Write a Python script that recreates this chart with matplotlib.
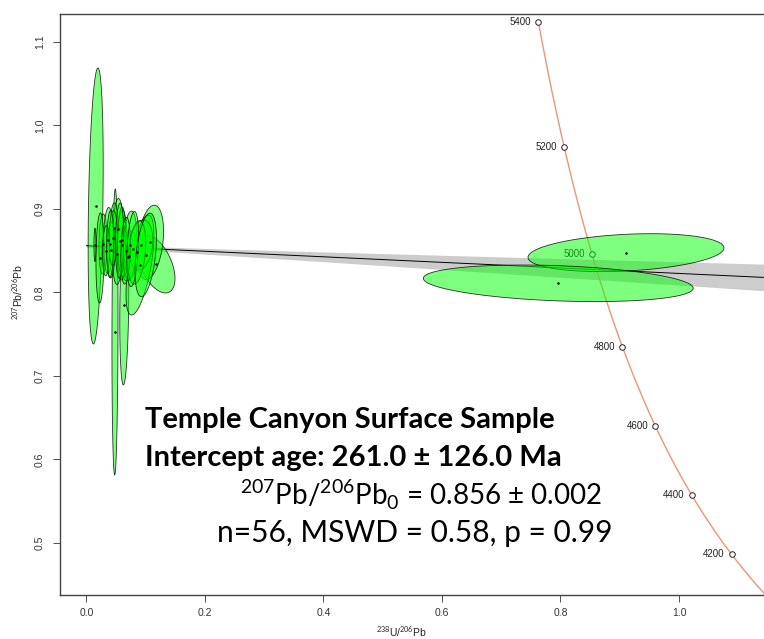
import numpy as np
import matplotlib.pyplot as plt
from matplotlib.patches import Polygon

plt.rcParams['mathtext.fontset'] = 'custom'
plt.rcParams['mathtext.rm'] = 'Lato'
plt.rcParams['mathtext.bf'] = 'Lato:bold'

# analyses: centre (238U/206Pb, 207Pb/206Pb), half-extent x, half-extent y, correlation
ell_x = [0.0155, 0.0481, 0.0638, 0.1173, 0.1076, 0.0903, 0.0700, 0.0717, 0.0278, 0.0368,
         0.0532, 0.0523, 0.0599, 0.0228, 0.0464, 0.0143, 0.0594, 0.0414, 0.0734, 0.0920,
         0.0330, 0.0450, 0.0850, 0.0400, 0.0560, 0.0660, 0.0780, 0.1000,
         0.9106, 0.7963]
ell_y = [0.9036, 0.7527, 0.7850, 0.8341, 0.8600, 0.8329, 0.8425, 0.8437, 0.8581, 0.8623,
         0.8766, 0.8455, 0.8569, 0.8413, 0.8772, 0.8570, 0.8629, 0.8509, 0.8569, 0.8569,
         0.8500, 0.8650, 0.8480, 0.8580, 0.8620, 0.8500, 0.8520, 0.8450,
         0.8477, 0.8110]
ell_sx = [0.0127, 0.0051, 0.0076, 0.0321, 0.0225, 0.0236, 0.0101, 0.0152, 0.0068, 0.0084,
          0.0084, 0.0084, 0.0084, 0.0068, 0.0068, 0.0017, 0.0068, 0.0068, 0.0118, 0.0200,
          0.0060, 0.0070, 0.0150, 0.0060, 0.0070, 0.0080, 0.0100, 0.0180,
          0.1654, 0.2278]
ell_sy = [0.1653, 0.1713, 0.0958, 0.0347, 0.0445, 0.0599, 0.0251, 0.0299, 0.0359, 0.0395,
          0.0359, 0.0359, 0.0419, 0.0539, 0.0299, 0.0200, 0.0395, 0.0335, 0.0407, 0.0300,
          0.0300, 0.0330, 0.0380, 0.0400, 0.0450, 0.0400, 0.0450, 0.0500,
          0.0227, 0.0219]
ell_rho = [0.3, 0.1, 0.2, -0.5, 0.3, 0.6, 0.2, 0.2, 0.1, 0.1,
           0.1, 0.1, 0.1, 0.1, 0.1, 0.0, 0.1, 0.1, 0.2, 0.2,
           0.1, 0.1, 0.3, 0.1, 0.1, 0.2, 0.3, 0.4,
           0.25, -0.27]

# concordia (Tera-Wasserburg) age labels, Ma
conc_ages = [4200, 4400, 4600, 4800, 5000, 5200, 5400]
lam238 = 1.55125e-4
lam235 = 9.8485e-4
U85 = 137.818

# regression: 207Pb/206Pb0 intercept, slope and their errors
y_int = 0.856
slope = -0.0332
y_int_err = 0.002
slope_err = 0.0138


def tw(t):
    e8 = np.exp(lam238 * t) - 1
    e5 = np.exp(lam235 * t) - 1
    return 1 / e8, e5 / (U85 * e8)


fig = plt.figure(figsize=(7.64, 6.39), dpi=100)
ax = fig.add_axes([60 / 764, 44 / 639, 704 / 764, 581 / 639])
ax.set_xlim(-0.0447, 1.1435)
ax.set_ylim(0.4377, 1.1335)

# error envelope and regression line
xx = np.linspace(0, 1.2, 200)
yy = y_int + slope * xx
ee = np.sqrt(y_int_err ** 2 + (slope_err * xx) ** 2)
ax.fill_between(xx, yy - ee, yy + ee, color='#cccccc', lw=0, zorder=1)
ax.plot(xx, yy, color='black', lw=0.7, zorder=2)

# concordia
tt = np.linspace(4000, 5400, 300)
cx, cy = tw(tt)
ax.plot(cx, cy, color='darksalmon', lw=1.0, zorder=3)
for a in conc_ages:
    px, py = tw(a)
    ax.plot(px, py, 'o', ms=4, mfc='white', mec='#222222', mew=0.7, zorder=4)
    ax.annotate(str(a), (px, py), xytext=(-5, 0), textcoords='offset points',
                ha='right', va='center', fontsize=7, color='#222222',
                family='Liberation Sans', zorder=4)

# error ellipses
t = np.linspace(0, 2 * np.pi, 120)
for i in range(len(ell_x)):
    r = ell_rho[i]
    ex = ell_x[i] + ell_sx[i] * np.cos(t)
    ey = ell_y[i] + ell_sy[i] * (r * np.cos(t) + np.sqrt(1 - r ** 2) * np.sin(t))
    ax.add_patch(Polygon(np.column_stack([ex, ey]), closed=True, fc=(0, 1, 0, 0.5),
                         ec=(0, 0, 0, 0.8), lw=0.6, zorder=5))
    ax.plot(ell_x[i], ell_y[i], 'o', ms=0.8, color='black', zorder=6)

ax.set_xticks([0.0, 0.2, 0.4, 0.6, 0.8, 1.0])
ax.set_yticks([0.5, 0.6, 0.7, 0.8, 0.9, 1.0, 1.1])
ax.set_xticklabels(['0.0', '0.2', '0.4', '0.6', '0.8', '1.0'])
ax.set_yticklabels(['0.5', '0.6', '0.7', '0.8', '0.9', '1.0', '1.1'], rotation=90, va='center')
ax.tick_params(direction='out', length=5, width=0.6, colors='#333333', labelsize=7.5)
ax.tick_params(axis='x', pad=4)
ax.tick_params(axis='y', pad=6)
for lab in ax.get_xticklabels() + ax.get_yticklabels():
    lab.set_family('Liberation Sans')
for s in ['left', 'top', 'bottom']:
    ax.spines[s].set_color('#444444')
    ax.spines[s].set_linewidth(1.0)
ax.spines['right'].set_visible(False)

fig.text(18 / 764, 1 - 292 / 639, r'$^{207}$Pb/$^{206}$Pb', rotation=90, ha='center', va='center',
         fontsize=7.5, family='Liberation Sans', color='#222222')
fig.text(401 / 764, 1 - 632 / 639, r'$^{238}$U/$^{206}$Pb', ha='center', va='center',
         fontsize=7.5, family='Liberation Sans', color='#222222')

fig.text(145 / 764, 1 - 428 / 639, 'Temple Canyon Surface Sample', fontsize=21, weight='bold',
         family='Lato', ha='left', va='baseline')
fig.text(145 / 764, 1 - 466 / 639, 'Intercept age: 261.0 ± 126.0 Ma', fontsize=21, weight='bold',
         family='Lato', ha='left', va='baseline')
fig.text(421 / 764, 1 - 505 / 639, r'$^{207}$Pb/$^{206}$Pb$_0$ = 0.856 ± 0.002', fontsize=20,
         family='Lato', ha='center', va='baseline')
fig.text(415 / 764, 1 - 542 / 639, 'n=56, MSWD = 0.58, p = 0.99', fontsize=21.5,
         family='Lato', ha='center', va='baseline')

fig.savefig('out.png', dpi=100)
